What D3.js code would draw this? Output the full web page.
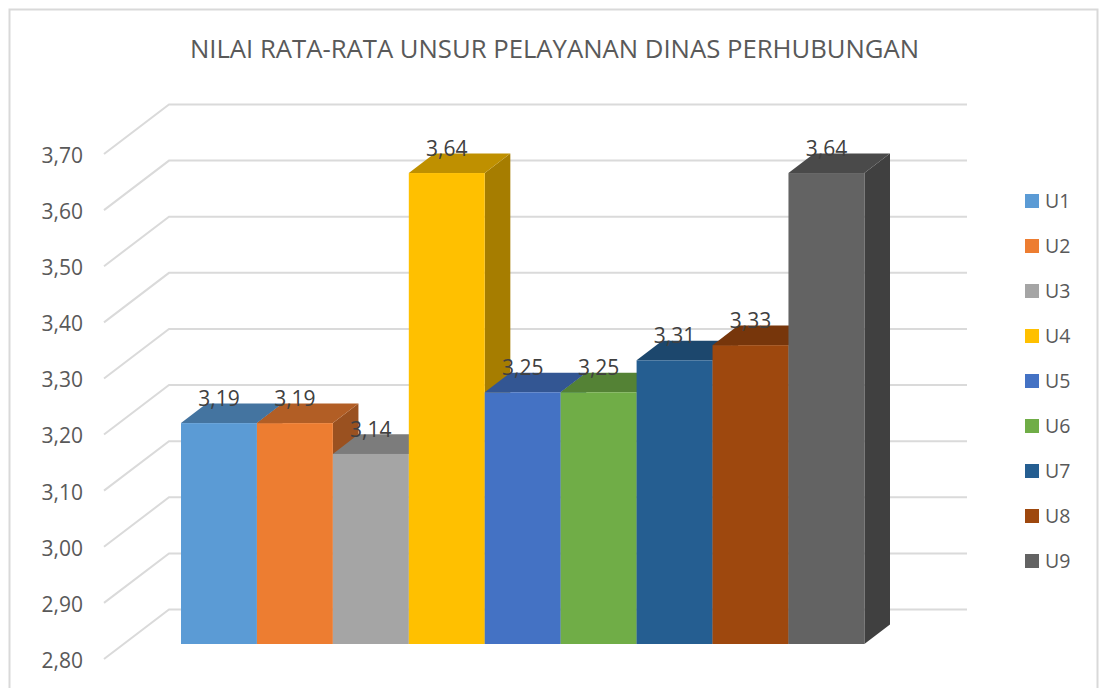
<!DOCTYPE html>
<html lang="en">
<head>
    <meta charset="UTF-8">
    <title>Nilai Rata-Rata Unsur Pelayanan</title>
    <script src="https://d3js.org/d3.v7.min.js"></script>
    <style>
        html, body { margin: 0; padding: 0; background: #fff; overflow: hidden; }
        svg { display: block; }
        text { font-family: "Open Sans", sans-serif; }
    </style>
</head>
<body>
    <svg id="chart" width="1099" height="688"></svg>
    <script>
        // Values
        var titleText = "NILAI RATA-RATA UNSUR PELAYANAN DINAS PERHUBUNGAN";
        var units = ["U1", "U2", "U3", "U4", "U5", "U6", "U7", "U8", "U9"];
        var values = [3.194, 3.194, 3.139, 3.64, 3.249, 3.249, 3.306, 3.333, 3.64];
        var colors = ["#5B9BD5", "#ED7D31", "#A5A5A5", "#FFC000", "#4472C4", "#70AD47", "#255E91", "#9E480E", "#636363"];
        var yDomain = [2.8, 3.7];
        var yTicks = [2.8, 2.9, 3.0, 3.1, 3.2, 3.3, 3.4, 3.5, 3.6, 3.7];

        // comma decimals, like the original
        var fmt = d3.formatLocale({decimal: ",", thousands: ".", grouping: [3], currency: ["", ""]}).format(".2f");

        var svg = d3.select("#chart");

        // outer chart border, runs off the bottom of the picture
        svg.append("rect")
            .attr("x", 9.5).attr("y", 9.5)
            .attr("width", 1088).attr("height", 700)
            .attr("fill", "#fff")
            .attr("stroke", "#d9d9d9")
            .attr("stroke-width", 2);

        svg.append("text")
            .attr("x", 554.5).attr("y", 58)
            .attr("text-anchor", "middle")
            .attr("font-size", 25.7)
            .attr("fill", "#595959")
            .text(titleText);

        // front edge of the floor/wall, and the depth of the wall
        var yWall = d3.scaleLinear().domain(yDomain).range([659, 154]);
        var wallX = 104, backX = 169, endX = 967, wallDepth = 49.5;

        // bars sit further in, same units per value
        var yBar = d3.scaleLinear().domain(yDomain).range([644, 139.4]);
        var x = d3.scaleBand().domain(units).range([181, 864.4]);
        var depthX = 25.6, depthY = 19.6;

        // gridlines
        svg.append("g").selectAll("polyline")
            .data(yTicks)
            .enter().append("polyline")
            .attr("points", function(d) {
                var y = yWall(d);
                return [[wallX, y], [backX, y - wallDepth], [endX, y - wallDepth]].join(" ");
            })
            .attr("fill", "none")
            .attr("stroke", "#dadada")
            .attr("stroke-width", 2);

        // y axis labels only
        var axis = svg.append("g")
            .attr("transform", "translate(85,1.6)")
            .call(d3.axisLeft(yWall).tickValues(yTicks).tickFormat(fmt).tickSize(0).tickPadding(2));
        axis.select(".domain").remove();
        axis.selectAll("text")
            .attr("font-family", null)
            .attr("font-size", 21)
            .attr("fill", "#595959");

        // bars, left to right so the next bar hides the previous side face
        var data = units.map(function(u, i) { return {unit: u, value: values[i], color: colors[i]}; });
        var bars = svg.append("g").selectAll("g")
            .data(data)
            .enter().append("g");

        function shade(c, k) {
            var r = d3.rgb(c);
            return d3.rgb(r.r * k, r.g * k, r.b * k).formatHex();
        }

        bars.append("polygon")
            .attr("points", function(d) {
                var x1 = x(d.unit) + x.bandwidth(), t = yBar(d.value), b = yBar(yDomain[0]);
                return [[x1, t], [x1 + depthX, t - depthY], [x1 + depthX, b - depthY], [x1, b]].join(" ");
            })
            .attr("fill", function(d) { return shade(d.color, 0.65); });

        bars.append("polygon")
            .attr("points", function(d) {
                var x0 = x(d.unit), x1 = x0 + x.bandwidth(), t = yBar(d.value);
                return [[x0, t], [x1, t], [x1 + depthX, t - depthY], [x0 + depthX, t - depthY]].join(" ");
            })
            .attr("fill", function(d) { return shade(d.color, 0.75); });

        bars.append("rect")
            .attr("x", function(d) { return x(d.unit); })
            .attr("y", function(d) { return yBar(d.value); })
            .attr("width", x.bandwidth())
            .attr("height", function(d) { return yBar(yDomain[0]) - yBar(d.value); })
            .attr("fill", function(d) { return d.color; });

        // value labels on top of everything
        svg.append("g").selectAll("text")
            .data(data)
            .enter().append("text")
            .attr("x", function(d) { return x(d.unit) + x.bandwidth() / 2; })
            .attr("y", function(d) { return yBar(d.value) - 17.3; })
            .attr("text-anchor", "middle")
            .attr("font-size", 21)
            .attr("fill", "#404040")
            .text(function(d) { return fmt(d.value); });

        // legend
        var legendY = d3.scalePoint().domain(units).range([194, 554]);
        var legend = svg.append("g").selectAll("g")
            .data(data)
            .enter().append("g")
            .attr("transform", function(d) { return "translate(1025," + legendY(d.unit) + ")"; });
        legend.append("rect")
            .attr("width", 14).attr("height", 14)
            .attr("fill", function(d) { return d.color; });
        legend.append("text")
            .attr("x", 20).attr("y", 14)
            .attr("font-size", 19.5)
            .attr("fill", "#595959")
            .text(function(d) { return d.unit; });
    </script>
</body>
</html>
